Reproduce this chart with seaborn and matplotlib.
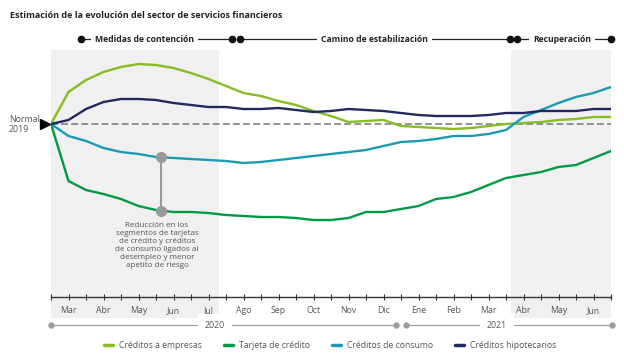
import numpy as np
import pandas as pd
import seaborn as sns
import matplotlib.pyplot as plt
from matplotlib.lines import Line2D

# months shown on the axis (Mar 2020 .. Jun 2021)
months = ["Mar", "Abr", "May", "Jun", "Jul", "Ago", "Sep", "Oct", "Nov", "Dic",
          "Ene", "Feb", "Mar", "Abr", "May", "Jun"]
# half-month steps, 0 = start of Mar 2020
steps = np.arange(33) * 0.5

# index relative to "Normal 2019" (0 = baseline)
empresas = [0, 32, 44, 52, 57, 60, 59, 56, 51, 45, 38, 31, 28, 23, 19, 13, 8,
            2, 3, 4, -2, -3, -4, -5, -4, -2, 0, 1, 2, 4, 5, 7, 7]
tarjeta = [0, -57, -66, -70, -75, -82, -86, -88, -88, -89, -91, -92, -93, -93,
           -94, -96, -96, -94, -88, -88, -85, -82, -75, -73, -68, -61, -54,
           -51, -48, -43, -41, -34, -27]
consumo = [0, -12, -17, -24, -28, -30, -33, -34, -35, -36, -37, -39, -38, -36,
           -34, -32, -30, -28, -26, -22, -18, -17, -15, -12, -12, -10, -6, 7,
           14, 21, 27, 31, 37]
hipotecarios = [0, 4, 15, 22, 25, 25, 24, 21, 19, 17, 17, 15, 15, 16, 14, 12,
                13, 15, 14, 13, 11, 9, 8, 8, 8, 9, 11, 11, 13, 13, 13, 15, 15]

series_names = ["Créditos a empresas", "Tarjeta de crédito",
                "Créditos de consumo", "Créditos hipotecarios"]
colors = ["#86bc25", "#009a44", "#1a9bb3", "#1f2a5e"]

phases = ["Medidas de contención", "Camino de estabilización", "Recuperación"]
phase_start = [0.86, 5.4, 13.3]
phase_end = [5.17, 13.1, 16.0]
phase_text_x = [2.67, 9.24, 14.6]

years = ["2020", "2021"]
year_start = [0.0, 10.15]
year_end = [9.85, 16.03]
year_text_x = [4.69, 12.74]

shade_start = [0.0, 13.15]
shade_end = [4.8, 16.0]

note_x = 3.15
note = ("Reducción en los\nsegmentos de tarjetas\nde crédito y créditos\n"
        "de consumo ligados al\ndesempleo y menor\napetito de riesgo")

df = pd.DataFrame({"mes": steps, series_names[0]: empresas,
                   series_names[1]: tarjeta, series_names[2]: consumo,
                   series_names[3]: hipotecarios})
df = df.melt(id_vars="mes", var_name="serie", value_name="valor")

sns.set_theme(style="white")
plt.rcParams["font.family"] = ["Open Sans", "DejaVu Sans"]

fig = plt.figure(figsize=(6.24, 3.55), dpi=100)
ax = fig.add_axes([51 / 624, 58 / 355, 560 / 624, 247 / 355])

for s, e in zip(shade_start, shade_end):
    ax.axvspan(s, e, ymin=-21 / 247, ymax=1, color="#f0f0f0", lw=0,
               zorder=0, clip_on=False)

ax.axhline(0, color="#8a8a8a", lw=1.3, ls=(0, (3.8, 1.8)), zorder=1)

sns.lineplot(data=df, x="mes", y="valor", hue="serie", palette=colors,
             linewidth=1.7, ax=ax, legend=False, zorder=3)

# annotation between consumo and tarjeta
y_top = np.interp(note_x, steps, consumo)
y_bot = np.interp(note_x, steps, tarjeta)
ax.plot([note_x, note_x], [y_top, y_bot], color="#9a9a9a", lw=1.5, zorder=4)
ax.plot([note_x, note_x], [y_top, y_bot], "o", color="#9a9a9a", ms=7, zorder=5)
ax.text(3.03, y_bot - 11, note, ha="center", va="top", fontsize=5.8,
        color="#555555", linespacing=1.22)

# baseline marker + label
ax.plot([-0.16], [0], marker=">", ms=7, color="black", clip_on=False, zorder=5)
fig.text(9 / 624, 1 - 124.5 / 355, "Normal\n2019", ha="left", va="center",
         fontsize=6.3, color="#555555", linespacing=1.05)

ax.set_xlim(0, 16)
ax.set_ylim(-173, 74)
ax.set_xlabel("")
ax.set_ylabel("")
ax.set_yticks([])
ax.set_xticks(np.arange(16) + 0.5, labels=months)
ax.set_xticks(np.arange(17), minor=True)
ax.tick_params(axis="x", which="both", direction="inout", length=4, width=0.8,
               color="#333333", labelsize=6.3, labelcolor="#555555", pad=4.5,
               bottom=True)
sns.despine(ax=ax, left=True)
ax.spines["bottom"].set_color("#333333")
ax.spines["bottom"].set_linewidth(1)

# phase header
tr = ax.get_xaxis_transform()
hy = 1 + 11 / 247
for name, s, e, tx in zip(phases, phase_start, phase_end, phase_text_x):
    ax.plot([s, e], [hy, hy], color="#222222", lw=0.9, transform=tr,
            clip_on=False)
    ax.plot([s, e], [hy, hy], "o", color="#111111", ms=4.5, transform=tr,
            clip_on=False)
    ax.text(tx, hy, name, transform=tr, ha="center", va="center",
            fontsize=6.2, fontweight="bold", color="#222222",
            bbox=dict(facecolor="white", edgecolor="none", pad=3))

# year bar
yy = -28 / 247
for name, s, e, tx in zip(years, year_start, year_end, year_text_x):
    ax.plot([s, e], [yy, yy], color="#9a9a9a", lw=0.8, transform=tr,
            clip_on=False)
    ax.plot([s, e], [yy, yy], "o", color="#9a9a9a", ms=3.5, transform=tr,
            clip_on=False)
    ax.text(tx, yy, name, transform=tr, ha="center", va="center",
            fontsize=6.3, color="#555555",
            bbox=dict(facecolor="white", edgecolor="none", pad=5))

fig.text(10 / 624, 1 - 15 / 355, "Estimación de la evolución del sector de servicios financieros",
         ha="left", va="center", fontsize=6.5, fontweight="bold", color="#222222")

handles = [Line2D([], [], color=c, lw=2.5) for c in colors]
fig.legend(handles, series_names, loc="center", ncol=4,
           bbox_to_anchor=(330 / 624, 1 - 346 / 355), frameon=False,
           fontsize=6.2, handlelength=1.0, columnspacing=2.6,
           handletextpad=0.7, labelcolor="#555555")

fig.savefig("out.png", dpi=100)
